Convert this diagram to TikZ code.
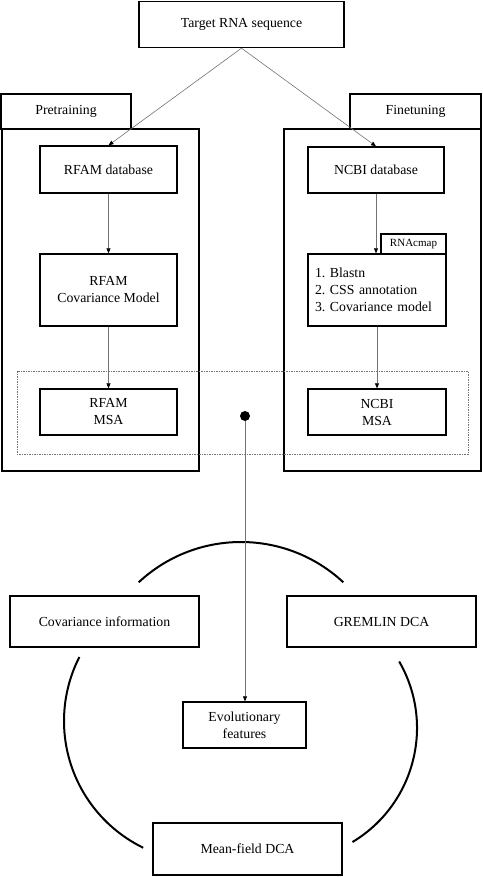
\documentclass[tikz,border=0pt]{standalone}
\usepackage{fontspec}
\setmainfont{Liberation Serif}
\usetikzlibrary{arrows.meta}
\begin{document}
\begin{tikzpicture}[x=1pt,y=-1pt,
  box/.style={draw,line width=1.35pt,inner sep=0pt,align=center,font=\fontsize{13.8}{17}\selectfont\frenchspacing},
  smallbox/.style={draw,line width=1.35pt,inner sep=0pt,align=center,font=\fontsize{11}{13}\selectfont},
  arr/.style={draw=black!55,line width=0.6pt,-{Triangle[length=5pt,width=4pt,color=black]}},
  arcline/.style={line width=2pt},
  dashbox/.style={draw=black!55,line width=0.5pt,dash pattern=on 1.5pt off 1pt}]
\useasboundingbox (0,0) rectangle (482,877);
% top
\node[box,minimum width=205pt,minimum height=46pt] (target) at (241.5,24.5) {Target RNA sequence};
% containers
\node[box,minimum width=197pt,minimum height=342pt] (pre) at (100.5,300) {};
\node[box,minimum width=130pt,minimum height=35pt] (pretab) at (66,111.5) {Pretraining};
\node[box,minimum width=197pt,minimum height=342pt] (fine) at (382.5,300) {};
\node[box,minimum width=131pt,minimum height=35pt] (finetab) at (415.5,111.5) {Finetuning};
% left column
\node[box,minimum width=137pt,minimum height=47pt] (rfamdb) at (108.5,169.5) {RFAM database};
\node[box,minimum width=137pt,minimum height=72pt] (rfamcm) at (108.5,290) {RFAM\\Covariance Model};
\node[box,minimum width=137pt,minimum height=46pt] (rfammsa) at (108.5,412) {RFAM\\MSA};
% right column
\node[box,minimum width=136pt,minimum height=46pt] (ncbidb) at (376,170) {NCBI database};
\node[smallbox,minimum width=65pt,minimum height=20pt] (cmaptab) at (413.5,244) {RNAcmap};
\node[box,minimum width=138pt,minimum height=72pt,text width=124pt,align=left] (steps) at (377,290) {1. Blastn\\2. CSS annotation\\3. Covariance model};
\node[box,minimum width=138pt,minimum height=46pt] (ncbimsa) at (377,412) {NCBI\\MSA};
% dashed grouping
\draw[dashbox] (17,371) rectangle (468,454);
\node[circle,fill=black,inner sep=0pt,minimum size=10pt] (dot) at (245,416) {};
% bottom
\node[box,minimum width=189pt,minimum height=51pt] (covinfo) at (104.5,621.5) {Covariance information};
\node[box,minimum width=189pt,minimum height=51pt] (gremlin) at (381.5,621.5) {GREMLIN DCA};
\node[box,minimum width=123pt,minimum height=46pt] (evo) at (244.5,725) {Evolutionary\\features};
\node[box,minimum width=189pt,minimum height=52pt] (mfdca) at (247.5,849) {Mean-field DCA};
% arcs
\draw[arcline] (241,692) ++(-133:150) arc[start angle=-133,end angle=-47,radius=150];
\draw[arcline] (205,721) ++(-153:141) arc[start angle=-153,end angle=-244,radius=141];
\draw[arcline] (284,728) ++(-30:133) arc[start angle=-30,end angle=59,radius=133];
% connectors
\draw[arr] (target.south) -- (rfamdb.north);
\draw[arr] (target.south) -- (ncbidb.north);
\draw[arr] (rfamdb) -- (rfamcm);
\draw[arr] (rfamcm) -- (rfammsa);
\draw[arr] (ncbidb) -- (ncbidb |- steps.north);
\draw[arr] (steps) -- (ncbimsa);
\draw[arr] (dot) -- (dot |- evo.north);
\end{tikzpicture}
\end{document}
